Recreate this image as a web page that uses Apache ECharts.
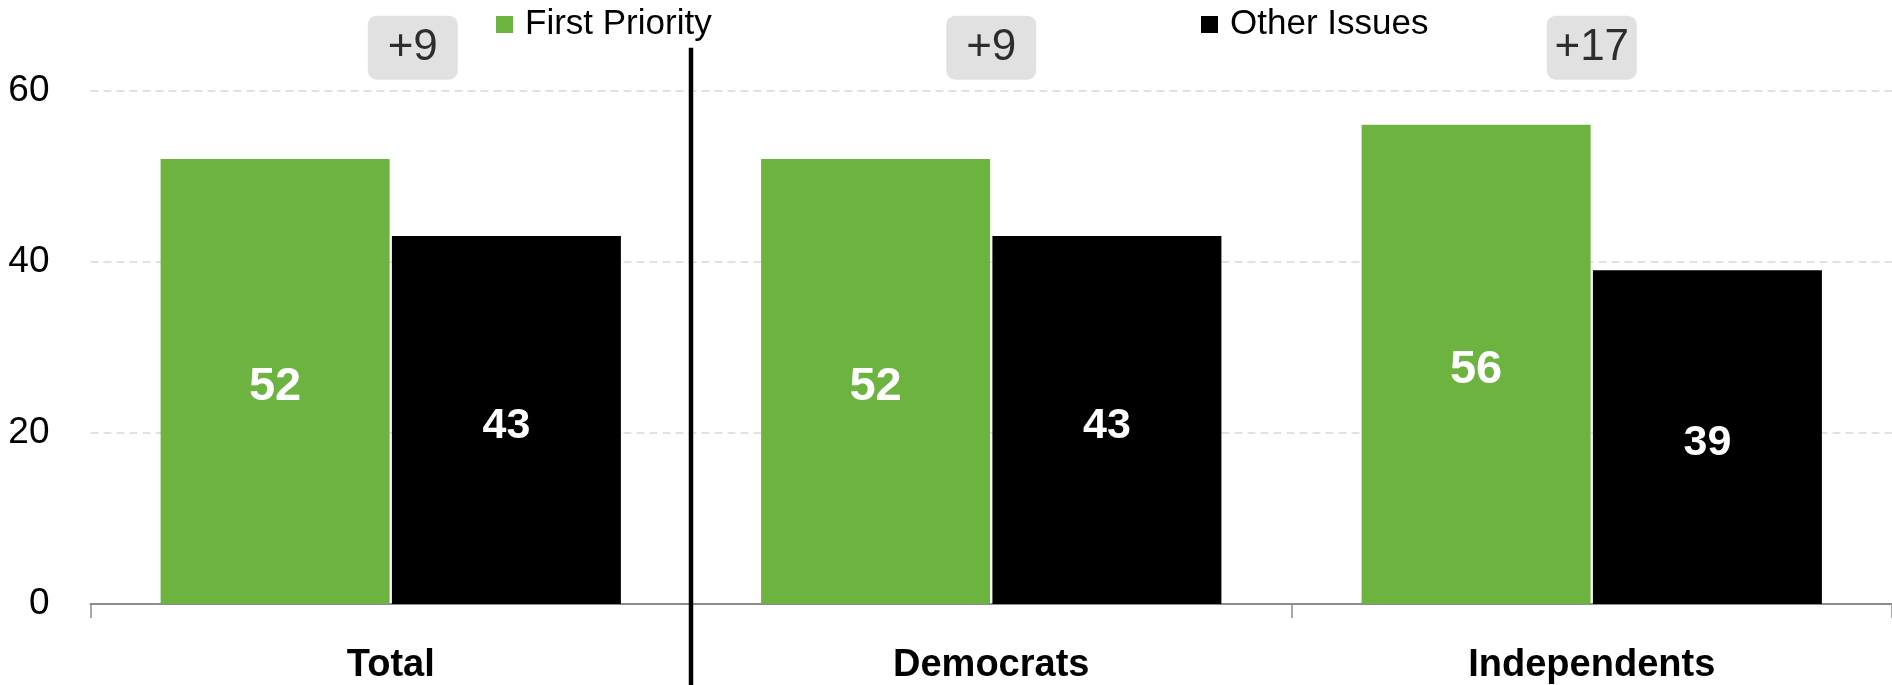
<!DOCTYPE html>
<html>
<head>
<meta charset="utf-8">
<script src="https://cdn.jsdelivr.net/npm/echarts@6/dist/echarts.min.js"></script>
<style>
html,body{margin:0;padding:0;background:#fff;}
#chart{width:1892px;height:685px;}
</style>
</head>
<body>
<div id="chart"></div>
<script>
const categories = ['Total', 'Democrats', 'Independents'];
const firstPriority = [52, 52, 56];
const otherIssues = [43, 43, 39];
const yTicks = [0, 20, 40, 60];

const FONT = '"Liberation Sans", Arial, sans-serif';
const GREEN = '#6db33f';
const diffs = firstPriority.map((v, i) => v - otherIssues[i]);
const labelY = 65;

const chart = echarts.init(document.getElementById('chart'), null, {renderer: 'canvas'});

const diffData = categories.map((c, i) => ({
  value: [c, labelY],
  diff: diffs[i],
  label: i === 0 ? {offset: [22, 0]} : {}
}));

const legendBase = {
  orient: 'horizontal',
  top: 2,
  itemWidth: 17,
  itemHeight: 17,
  icon: 'rect',
  itemGap: 0,
  selectedMode: false,
  textStyle: {fontFamily: FONT, fontSize: 35, color: '#000', padding: [0, 0, 0, 7]}
};

const option = {
  animation: false,
  backgroundColor: '#fff',
  grid: {left: 90.5, right: 0, top: 90.5, bottom: 80.5, containLabel: false},
  legend: [
    Object.assign({}, legendBase, {left: 491, data: ['First Priority']}),
    Object.assign({}, legendBase, {left: 1196, data: ['Other Issues']})
  ],
  xAxis: {
    type: 'category',
    data: categories,
    axisLine: {show: true, lineStyle: {color: '#8c8c8c', width: 2}},
    axisTick: {show: true, length: 14, lineStyle: {color: '#8c8c8c', width: 1.5}},
    axisLabel: {fontFamily: FONT, fontSize: 38, fontWeight: 'bold', color: '#000', margin: 43}
  },
  yAxis: {
    type: 'value',
    min: yTicks[0],
    max: yTicks[yTicks.length - 1],
    interval: yTicks[1] - yTicks[0],
    axisLine: {show: false},
    axisTick: {show: false},
    axisLabel: {fontFamily: FONT, fontSize: 37, color: '#000', margin: 41},
    splitLine: {show: true, lineStyle: {color: '#d9d9d9', width: 1.5, type: [8, 5]}}
  },
  series: [
    {
      name: 'First Priority',
      type: 'bar',
      data: firstPriority,
      barWidth: 229,
      barGap: '1%',
      itemStyle: {color: GREEN},
      label: {show: true, position: 'inside', offset: [0, 6], color: '#fff', fontFamily: FONT, fontWeight: 'bold', fontSize: 47}
    },
    {
      name: 'Other Issues',
      type: 'bar',
      data: otherIssues,
      barWidth: 229,
      barGap: '1%',
      itemStyle: {color: '#000'},
      label: {show: true, position: 'inside', offset: [0, 6], color: '#fff', fontFamily: FONT, fontWeight: 'bold', fontSize: 43}
    },
    {
      name: 'diff',
      type: 'scatter',
      data: diffData,
      symbolSize: 1,
      clip: false,
      itemStyle: {color: 'rgba(0,0,0,0)'},
      silent: true,
      z: 5,
      label: {
        show: true,
        position: 'inside',
        formatter: p => '+' + p.data.diff,
        fontFamily: FONT,
        fontSize: 44,
        color: '#000',
        backgroundColor: '#d9d9d9',
        borderRadius: 9,
        width: 52,
        align: 'center',
        lineHeight: 42,
        padding: [11, 19]
      }
    }
  ]
};

chart.setOption(option);

const c0 = chart.convertToPixel({xAxisIndex: 0}, categories[0]);
const c1 = chart.convertToPixel({xAxisIndex: 0}, categories[1]);
const divX = (c0 + c1) / 2;
const divTop = chart.convertToPixel({yAxisIndex: 0}, labelY);
chart.setOption({
  graphic: [{
    type: 'line',
    shape: {x1: divX, y1: divTop, x2: divX, y2: 685},
    style: {stroke: '#000', lineWidth: 4.5},
    z: 10
  }]
});
</script>
</body>
</html>
